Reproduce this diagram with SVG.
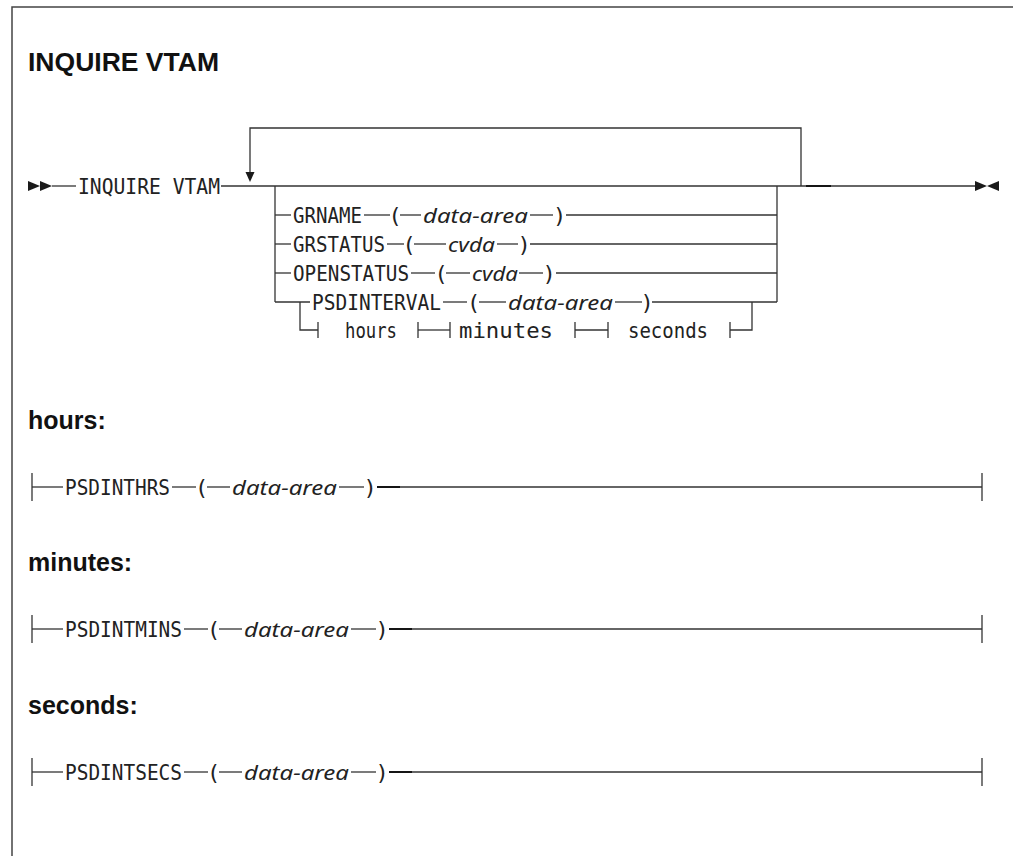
<svg xmlns="http://www.w3.org/2000/svg" width="1013" height="856" viewBox="0 0 1013 856">
<style>
.ln{stroke:#333;stroke-width:1.3;fill:none}
.thk{stroke:#111;stroke-width:1.9}
.ar{fill:#1a1a1a}
.kw{font-family:"DejaVu Sans Mono","Liberation Mono",monospace;font-size:22px;fill:#222}
.var{font-family:"Noto Sans","Open Sans",sans-serif;font-style:italic;font-size:20px;fill:#222}
.hd{font-family:"Liberation Sans",Arial,sans-serif;font-weight:bold;font-size:25px;fill:#111}
.bd{stroke:#444;stroke-width:1.5;fill:none}
</style>
<rect width="1013" height="856" fill="#fff"/>
<path class="bd" d="M12,870 V7 H1020"/>
<text id="title" class="hd" x="28" y="71" textLength="191" lengthAdjust="spacingAndGlyphs">INQUIRE VTAM</text>

<g id="connectors">
  <!-- main line -->
  <polygon class="ar" points="28,181 28,191 40,186"/>
  <polygon class="ar" points="40,181 40,191 52,186"/>
  <line class="ln" x1="52" y1="186" x2="76" y2="186"/>
  <line class="ln" x1="221" y1="186" x2="975" y2="186"/>
  <line class="thk" x1="806" y1="186" x2="831" y2="186"/>
  <polygon class="ar" points="975,181 975,191 987,186"/>
  <polygon class="ar" points="999,181 999,191 987,186"/>
  <!-- repeat loop -->
  <path class="ln" d="M801,186 V128 H250 V173"/>
  <polygon class="ar" points="245.5,172 254.5,172 250,182"/>
  <!-- branch verticals -->
  <line class="ln" x1="275" y1="186" x2="275" y2="302"/>
  <line class="ln" x1="777" y1="186" x2="777" y2="302"/>
  <!-- row1 GRNAME -->
  <line class="ln" x1="275" y1="215" x2="291" y2="215"/>
  <line class="ln" x1="364" y1="215" x2="390" y2="215"/>
  <line class="ln" x1="400" y1="215" x2="421" y2="215"/>
  <line class="ln" x1="530" y1="215" x2="553" y2="215"/>
  <line class="ln" x1="566" y1="215" x2="777" y2="215"/>
  <!-- row2 GRSTATUS -->
  <line class="ln" x1="275" y1="244" x2="291" y2="244"/>
  <line class="ln" x1="387" y1="244" x2="404" y2="244"/>
  <line class="ln" x1="414" y1="244" x2="446" y2="244"/>
  <line class="ln" x1="497" y1="244" x2="518" y2="244"/>
  <line class="ln" x1="530" y1="244" x2="777" y2="244"/>
  <!-- row3 OPENSTATUS -->
  <line class="ln" x1="275" y1="273" x2="291" y2="273"/>
  <line class="ln" x1="411" y1="273" x2="435" y2="273"/>
  <line class="ln" x1="446" y1="273" x2="470" y2="273"/>
  <line class="ln" x1="519" y1="273" x2="543" y2="273"/>
  <line class="ln" x1="556" y1="273" x2="777" y2="273"/>
  <!-- row4 PSDINTERVAL -->
  <line class="ln" x1="275" y1="302" x2="310" y2="302"/>
  <line class="ln" x1="443" y1="302" x2="467" y2="302"/>
  <line class="ln" x1="479" y1="302" x2="506" y2="302"/>
  <line class="ln" x1="615" y1="302" x2="642" y2="302"/>
  <line class="ln" x1="652" y1="302" x2="777" y2="302"/>
  <!-- row5 fragments -->
  <path class="ln" d="M300,302 V330 H318"/>
  <line class="ln" x1="318" y1="322" x2="318" y2="338"/>
  <line class="ln" x1="418" y1="322" x2="418" y2="338"/>
  <line class="ln" x1="418" y1="330" x2="450" y2="330"/>
  <line class="ln" x1="450" y1="322" x2="450" y2="338"/>
  <line class="ln" x1="575" y1="322" x2="575" y2="338"/>
  <line class="ln" x1="575" y1="330" x2="608" y2="330"/>
  <line class="ln" x1="608" y1="322" x2="608" y2="338"/>
  <line class="ln" x1="730" y1="322" x2="730" y2="338"/>
  <path class="ln" d="M730,330 H752 V302"/>
  <!-- hours -->
  <line class="ln" x1="32" y1="473" x2="32" y2="501"/>
  <line class="ln" x1="32" y1="487" x2="63" y2="487"/>
  <line class="ln" x1="172" y1="487" x2="196" y2="487"/>
  <line class="ln" x1="207" y1="487" x2="230" y2="487"/>
  <line class="ln" x1="339" y1="487" x2="364" y2="487"/>
  <line class="ln" x1="377" y1="487" x2="982" y2="487"/>
  <line class="thk" x1="377" y1="487" x2="400" y2="487"/>
  <line class="ln" x1="982" y1="473" x2="982" y2="501"/>
  <!-- minutes -->
  <line class="ln" x1="32" y1="615" x2="32" y2="643"/>
  <line class="ln" x1="32" y1="629" x2="63" y2="629"/>
  <line class="ln" x1="184" y1="629" x2="208" y2="629"/>
  <line class="ln" x1="219" y1="629" x2="242" y2="629"/>
  <line class="ln" x1="351" y1="629" x2="376" y2="629"/>
  <line class="ln" x1="389" y1="629" x2="982" y2="629"/>
  <line class="thk" x1="389" y1="629" x2="412" y2="629"/>
  <line class="ln" x1="982" y1="615" x2="982" y2="643"/>
  <!-- seconds -->
  <line class="ln" x1="32" y1="758" x2="32" y2="786"/>
  <line class="ln" x1="32" y1="772" x2="63" y2="772"/>
  <line class="ln" x1="184" y1="772" x2="208" y2="772"/>
  <line class="ln" x1="219" y1="772" x2="242" y2="772"/>
  <line class="ln" x1="351" y1="772" x2="376" y2="772"/>
  <line class="ln" x1="389" y1="772" x2="982" y2="772"/>
  <line class="thk" x1="389" y1="772" x2="412" y2="772"/>
  <line class="ln" x1="982" y1="758" x2="982" y2="786"/>
</g>

<g id="n-inquire"><text class="kw" x="78" y="194" textLength="142" lengthAdjust="spacingAndGlyphs">INQUIRE VTAM</text></g>
<g id="n-grname">
  <text class="kw" x="293" y="223" textLength="69" lengthAdjust="spacingAndGlyphs">GRNAME</text>
  <text class="kw" x="395" y="223" text-anchor="middle">(</text>
  <text class="var" x="423" y="223" textLength="105" lengthAdjust="spacingAndGlyphs">data-area</text>
  <text class="kw" x="559.5" y="223" text-anchor="middle">)</text>
</g>
<g id="n-grstatus">
  <text class="kw" x="293" y="252" textLength="92" lengthAdjust="spacingAndGlyphs">GRSTATUS</text>
  <text class="kw" x="409" y="252" text-anchor="middle">(</text>
  <text class="var" x="448" y="252" textLength="47" lengthAdjust="spacingAndGlyphs">cvda</text>
  <text class="kw" x="524" y="252" text-anchor="middle">)</text>
</g>
<g id="n-openstatus">
  <text class="kw" x="293" y="281" textLength="116" lengthAdjust="spacingAndGlyphs">OPENSTATUS</text>
  <text class="kw" x="441" y="281" text-anchor="middle">(</text>
  <text class="var" x="472" y="281" textLength="46" lengthAdjust="spacingAndGlyphs">cvda</text>
  <text class="kw" x="549" y="281" text-anchor="middle">)</text>
</g>
<g id="n-psdinterval">
  <text class="kw" x="312" y="310" textLength="129" lengthAdjust="spacingAndGlyphs">PSDINTERVAL</text>
  <text class="kw" x="473.5" y="310" text-anchor="middle">(</text>
  <text class="var" x="508" y="310" textLength="105" lengthAdjust="spacingAndGlyphs">data-area</text>
  <text class="kw" x="647" y="310" text-anchor="middle">)</text>
</g>
<g id="n-fragrefs">
  <text class="kw" x="345" y="338" textLength="52" lengthAdjust="spacingAndGlyphs">hours</text>
  <text class="kw" x="459" y="338" textLength="94" lengthAdjust="spacingAndGlyphs">minutes</text>
  <text class="kw" x="628" y="338" textLength="80" lengthAdjust="spacingAndGlyphs">seconds</text>
</g>

<g id="n-hours">
  <text class="hd" x="28" y="429">hours:</text>
  <text class="kw" x="65" y="495" textLength="105" lengthAdjust="spacingAndGlyphs">PSDINTHRS</text>
  <text class="kw" x="201.5" y="495" text-anchor="middle">(</text>
  <text class="var" x="232" y="495" textLength="105" lengthAdjust="spacingAndGlyphs">data-area</text>
  <text class="kw" x="370" y="495" text-anchor="middle">)</text>
</g>
<g id="n-minutes">
  <text class="hd" x="28" y="571">minutes:</text>
  <text class="kw" x="65" y="637" textLength="117" lengthAdjust="spacingAndGlyphs">PSDINTMINS</text>
  <text class="kw" x="213.5" y="637" text-anchor="middle">(</text>
  <text class="var" x="244" y="637" textLength="105" lengthAdjust="spacingAndGlyphs">data-area</text>
  <text class="kw" x="382" y="637" text-anchor="middle">)</text>
</g>
<g id="n-seconds">
  <text class="hd" x="28" y="714">seconds:</text>
  <text class="kw" x="65" y="780" textLength="117" lengthAdjust="spacingAndGlyphs">PSDINTSECS</text>
  <text class="kw" x="213.5" y="780" text-anchor="middle">(</text>
  <text class="var" x="244" y="780" textLength="105" lengthAdjust="spacingAndGlyphs">data-area</text>
  <text class="kw" x="382" y="780" text-anchor="middle">)</text>
</g>
</svg>
